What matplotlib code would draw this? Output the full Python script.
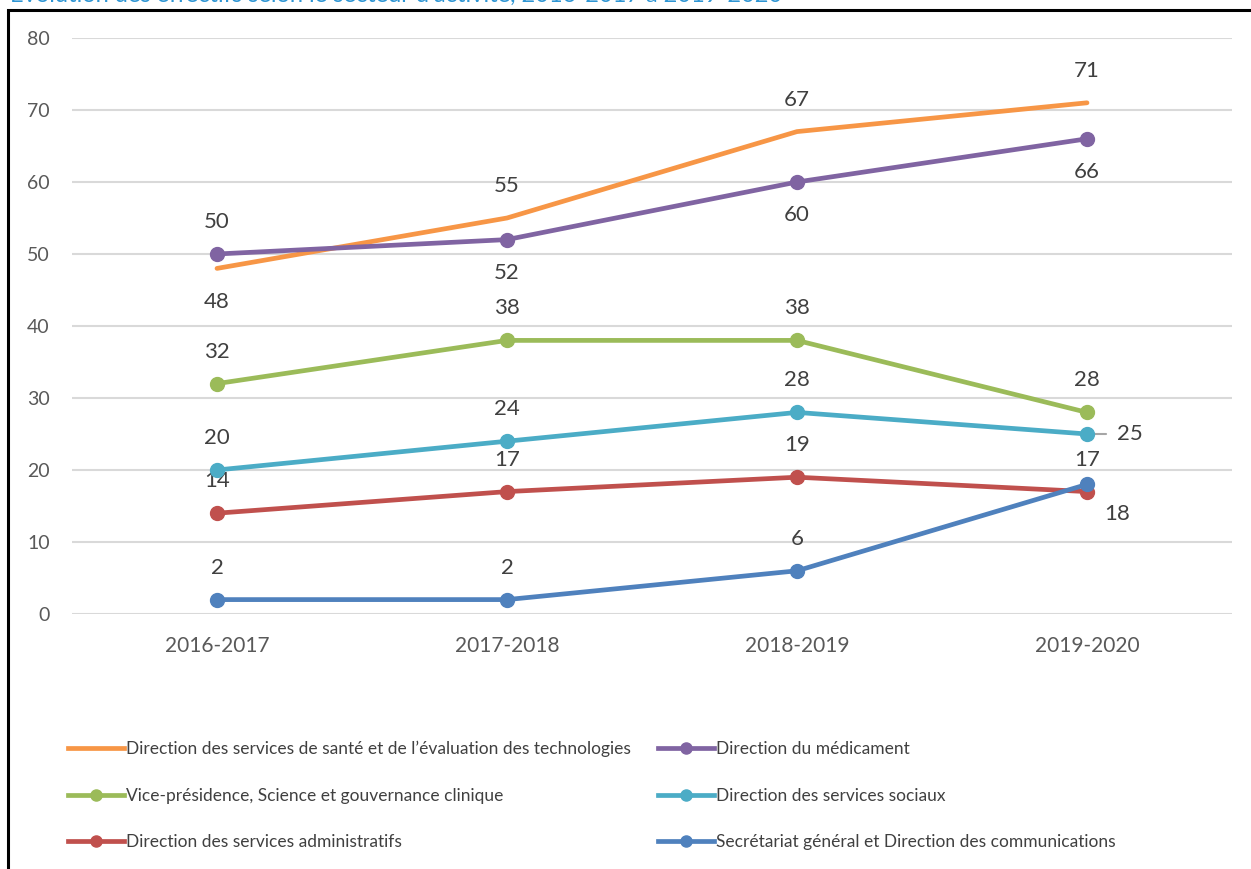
import matplotlib.pyplot as plt
from matplotlib.lines import Line2D
from matplotlib.patches import Rectangle

plt.rcParams['font.family'] = ['Lato', 'DejaVu Sans']

years = ['2016-2017', '2017-2018', '2018-2019', '2019-2020']

sante = [48, 55, 67, 71]
medicament = [50, 52, 60, 66]
science = [32, 38, 38, 28]
sociaux = [20, 24, 28, 25]
admin = [14, 17, 19, 17]
secretariat = [2, 2, 6, 18]

# label shown at each point (last two are swapped in the original report)
admin_labels = [14, 17, 19, 17]
secretariat_labels = [2, 2, 6, 18]

noms = [
    "Direction des services de santé et de l\u2019évaluation des technologies",
    "Direction du médicament",
    "Vice-présidence, Science et gouvernance clinique",
    "Direction des services sociaux",
    "Direction des services administratifs",
    "Secrétariat général et Direction des communications",
]
couleurs = ['#F79646', '#8064A2', '#9BBB59', '#4BACC6', '#C0504D', '#4F81BD']

fig = plt.figure(figsize=(12.51, 8.69), dpi=100)
ax = fig.add_axes([72 / 1251, 1 - 614 / 869, 1160 / 1251, 576 / 869])

x = list(range(len(years)))
series = [sante, medicament, science, sociaux, admin, secretariat]
labels = [sante, medicament, science, sociaux, admin_labels, secretariat_labels]

# label offsets in points (dx, dy) per series / point
up = (0, 23)
down = (0, -24)
offsets = [
    [down, up, up, up],
    [up, down, down, down],
    [up, up, up, up],
    [up, up, up, (31, 0)],
    [up, up, up, up],
    [up, up, up, (22, -21)],
]

handles = []
for i, (vals, lab) in enumerate(zip(series, labels)):
    mk = None if i == 0 else 'o'
    ax.plot(x, vals, color=couleurs[i], lw=3.4, marker=mk, ms=10,
            solid_capstyle='round', zorder=3 + i)
    handles.append(Line2D([], [], color=couleurs[i], lw=3.4, marker=mk, ms=8))
    for j, v in enumerate(vals):
        dx, dy = offsets[i][j]
        if i == 3 and j == 3:
            ax.annotate(str(lab[j]), (j, v), xytext=(dx, dy), textcoords='offset points',
                        ha='center', va='center', fontsize=16, color='#404040',
                        arrowprops=dict(arrowstyle='-', color='#A6A6A6', lw=1.5,
                                        shrinkA=6, shrinkB=2))
        else:
            ax.annotate(str(lab[j]), (j, v), xytext=(dx, dy), textcoords='offset points',
                        ha='center', va='center', fontsize=16, color='#404040')

ax.set_xlim(-0.5, 3.5)
ax.set_ylim(0, 80)
ax.set_yticks(range(0, 81, 10))
ax.set_xticks(x)
ax.set_xticklabels(years)
ax.grid(axis='y', color='#D9D9D9', lw=1.5)
ax.set_axisbelow(True)
for s in ax.spines.values():
    s.set_visible(False)
ax.tick_params(axis='both', length=0, colors='#595959', labelsize=14)
ax.tick_params(axis='y', pad=16)
ax.tick_params(axis='x', pad=16, labelsize=15)

# legend laid out row by row
ordre = [0, 2, 4, 1, 3, 5]
fig.legend([handles[k] for k in ordre], [noms[k] for k in ordre], ncol=2,
           loc='upper left', bbox_to_anchor=(68 / 1251, 1 - 741 / 869),
           frameon=False, fontsize=12.5, labelcolor='#404040',
           handlelength=3.2, handletextpad=0.15, columnspacing=1.55,
           labelspacing=1.75, borderpad=0, borderaxespad=0)

# outer frame of the chart box
fig.patches.append(Rectangle((8 / 1251, -0.1), 1.2, 1 - 10 / 869 + 0.1,
                             transform=fig.transFigure, fill=False,
                             edgecolor='black', lw=2.2))

# title, cut at the top of the image (as in the source screenshot)
fig.text(10 / 1251, 1 + 6 / 869, "Évolution des effectifs selon le secteur d\u2019activité, 2016-2017 à 2019-2020",
         ha='left', va='center', fontsize=17, color='#2E95D3')

fig.savefig('out.png', dpi=100)
